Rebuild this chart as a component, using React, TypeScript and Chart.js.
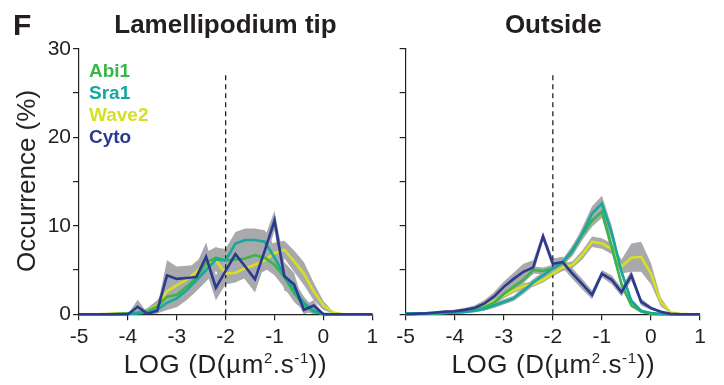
import React, { useEffect, useRef } from "react";
import { Chart, registerables } from "chart.js";

Chart.register(...registerables);

// ---------- data ----------
const LOG_D = [-5, -4.8, -4.6, -4.4, -4.2, -4, -3.8, -3.6, -3.4, -3.2, -3, -2.8, -2.6, -2.4, -2.2, -2, -1.8, -1.6, -1.4, -1.2, -1, -0.8, -0.6, -0.4, -0.2, 0, 0.2, 0.4, 0.6, 0.8, 1];

const SERIES_NAMES = ["Abi1", "Sra1", "Wave2", "Cyto"];
const SERIES_COLORS = ["#3ab54a", "#16a99b", "#d7df23", "#2b3990"];
const SERIES_ORDER = [3, 2, 4, 1];
const BAND_COLOR = "#a7a9ac";

const PANEL_TITLES = ["Lamellipodium tip", "Outside"];
const X_TICKS = [-5, -4, -3, -2, -1, 0, 1];
const Y_LABELS = [0, 10, 20, 30];
const DASH_X = -2;
const DASH_TOP = 27.3;

// Lamellipodium tip
const tipAbi1 = [0, 0, 0, 0, 0.05, 0.1, 0.2, 0.35, 0.9, 2.0, 2.2, 3.1, 4.1, 5.8, 6.4, 6.1, 6.2, 6.3, 6.7, 6.4, 5.6, 4.2, 2.4, 1.0, 0.3, 0, 0, 0, 0, 0, 0];
const tipSra1 = [0, 0, 0, 0, 0, 0.05, 0.1, 0.2, 0.5, 1.3, 1.8, 2.7, 3.8, 5.0, 6.2, 6.1, 8.0, 8.4, 8.4, 8.2, 6.4, 4.4, 2.8, 1.3, 0.4, 0.05, 0, 0, 0, 0, 0];
const tipWave2 = [0, 0, 0, 0.05, 0.1, 0.1, 0.15, 0.4, 1.0, 2.6, 3.3, 3.9, 4.8, 5.7, 6.1, 4.6, 4.7, 5.2, 5.6, 6.1, 6.9, 7.3, 6.0, 4.6, 2.6, 1.0, 0.2, 0, 0, 0, 0];
const tipCyto = [0, 0, 0, 0, 0, 0, 0.85, 0.05, 0.4, 4.4, 4.0, 4.1, 4.2, 6.5, 3.0, 4.9, 6.8, 5.4, 3.95, 7.2, 10.6, 4.3, 3.4, 0.5, 1.0, 0, 0, 0, 0, 0, 0];

const tipAbi1Err = [0, 0, 0, 0, 0.05, 0.1, 0.2, 0.3, 0.6, 0.9, 1.0, 1.1, 1.2, 1.2, 1.2, 1.1, 1.1, 1.1, 1.2, 1.2, 1.2, 1.2, 1.0, 0.6, 0.3, 0.1, 0, 0, 0, 0, 0];
const tipSra1Err = [0, 0, 0, 0, 0, 0.05, 0.1, 0.2, 0.4, 0.8, 1.0, 1.1, 1.2, 1.3, 1.3, 1.3, 1.3, 1.3, 1.3, 1.3, 1.3, 1.2, 1.0, 0.7, 0.3, 0.05, 0, 0, 0, 0, 0];
const tipWave2Err = [0, 0, 0, 0.05, 0.1, 0.1, 0.15, 0.3, 0.6, 1.0, 1.0, 1.1, 1.2, 1.2, 1.2, 1.2, 1.1, 1.1, 1.2, 1.2, 1.2, 1.0, 1.2, 1.3, 1.0, 0.5, 0.1, 0, 0, 0, 0];
const tipCytoErr = [0, 0, 0, 0, 0, 0, 0.8, 0.1, 0.4, 1.7, 1.4, 1.4, 1.4, 1.6, 1.4, 1.5, 1.6, 1.5, 1.5, 1.5, 1.1, 1.6, 1.3, 0.5, 0.6, 0, 0, 0, 0, 0, 0];

// Outside
const outAbi1 = [0.05, 0.05, 0.1, 0.1, 0.15, 0.2, 0.3, 0.5, 0.8, 1.3, 2.3, 3.1, 3.9, 5.0, 4.9, 5.2, 5.8, 7.3, 9.0, 10.6, 11.6, 7.6, 3.4, 1.0, 0.3, 0.05, 0, 0, 0, 0, 0];
const outSra1 = [0.1, 0.1, 0.1, 0.1, 0.15, 0.2, 0.25, 0.4, 0.6, 1.0, 1.4, 1.8, 2.7, 3.6, 4.4, 5.2, 5.9, 7.1, 9.1, 11.4, 12.5, 9.2, 4.8, 1.5, 0.4, 0.15, 0.05, 0, 0, 0, 0];
const outWave2 = [0, 0.05, 0.1, 0.1, 0.2, 0.2, 0.3, 0.5, 0.9, 1.5, 2.1, 2.7, 3.2, 3.4, 3.9, 4.6, 5.3, 5.6, 6.7, 8.2, 8.0, 7.4, 5.4, 6.4, 6.5, 4.6, 1.4, 0.2, 0.05, 0, 0];
const outCyto = [0, 0.05, 0.1, 0.2, 0.3, 0.35, 0.5, 0.7, 1.2, 2.0, 3.1, 4.0, 4.8, 5.3, 8.8, 5.7, 5.9, 4.6, 3.4, 2.2, 4.6, 3.9, 2.5, 4.4, 1.4, 0.7, 0.3, 0.05, 0, 0, 0];

const outAbi1Err = [0.05, 0.05, 0.05, 0.1, 0.1, 0.1, 0.1, 0.2, 0.2, 0.3, 0.3, 0.4, 0.4, 0.4, 0.4, 0.4, 0.4, 0.5, 0.6, 0.7, 0.7, 0.6, 0.4, 0.2, 0.1, 0.05, 0, 0, 0, 0, 0];
const outSra1Err = [0.05, 0.05, 0.05, 0.1, 0.1, 0.1, 0.1, 0.2, 0.2, 0.3, 0.3, 0.3, 0.4, 0.4, 0.4, 0.4, 0.4, 0.5, 0.7, 0.8, 0.9, 0.8, 0.5, 0.3, 0.1, 0.05, 0, 0, 0, 0, 0];
const outWave2Err = [0, 0.05, 0.05, 0.1, 0.1, 0.1, 0.1, 0.2, 0.2, 0.3, 0.3, 0.3, 0.3, 0.3, 0.3, 0.3, 0.4, 0.4, 0.5, 0.6, 0.6, 0.6, 0.8, 1.6, 1.7, 1.2, 0.5, 0.1, 0.05, 0, 0];
const outCytoErr = [0, 0.05, 0.05, 0.1, 0.1, 0.2, 0.2, 0.3, 0.4, 0.5, 0.6, 0.7, 0.9, 0.8, 0.5, 0.6, 0.6, 0.6, 0.6, 0.5, 0.4, 0.5, 0.5, 0.6, 0.4, 0.2, 0.1, 0.05, 0, 0, 0];

const TIP_MEANS = [tipAbi1, tipSra1, tipWave2, tipCyto];
const TIP_ERRS = [tipAbi1Err, tipSra1Err, tipWave2Err, tipCytoErr];
const OUT_MEANS = [outAbi1, outSra1, outWave2, outCyto];
const OUT_ERRS = [outAbi1Err, outSra1Err, outWave2Err, outCytoErr];

// ---------- styling ----------
const INK = "#231f20";
const FONT = "'Liberation Sans', Arial, Helvetica, sans-serif";

function buildConfig(means: number[][], errs: number[][], showYLabels: boolean, yWidth: number, padRight: number): any {
  const datasets: any[] = [];
  means.forEach((m, i) => {
    const e = errs[i];
    datasets.push({
      label: SERIES_NAMES[i] + " low",
      data: LOG_D.map((x, k) => ({ x, y: Math.max(0, m[k] - e[k]) })),
      borderWidth: 0,
      pointRadius: 0,
      fill: false,
      order: 20,
    });
    datasets.push({
      label: SERIES_NAMES[i] + " high",
      data: LOG_D.map((x, k) => ({ x, y: m[k] + e[k] })),
      borderWidth: 0,
      pointRadius: 0,
      backgroundColor: BAND_COLOR,
      fill: "-1",
      order: 20,
    });
  });
  datasets.push({
    label: "threshold",
    data: [
      { x: DASH_X, y: 0 },
      { x: DASH_X, y: DASH_TOP },
    ],
    borderColor: INK,
    borderWidth: 1.3,
    borderDash: [5, 4],
    pointRadius: 0,
    fill: false,
    order: 8,
  });
  means.forEach((m, i) => {
    datasets.push({
      label: SERIES_NAMES[i],
      data: LOG_D.map((x, k) => ({ x, y: m[k] })),
      borderColor: SERIES_COLORS[i],
      borderWidth: 2.6,
      pointRadius: 0,
      fill: false,
      tension: 0,
      clip: false,
      order: SERIES_ORDER[i],
    });
  });

  return {
    type: "line",
    data: { datasets },
    options: {
      animation: false,
      responsive: false,
      devicePixelRatio: 1,
      layout: { padding: { top: 48.8, right: padRight, bottom: 0, left: 0 } },
      plugins: { legend: { display: false }, tooltip: { enabled: false }, title: { display: false } },
      scales: {
        x: {
          type: "linear",
          min: -5,
          max: 1,
          afterFit: (s: any) => {
            s.height = 70.7;
          },
          ticks: {
            stepSize: 1,
            autoSkip: false,
            maxRotation: 0,
            padding: 4,
            color: INK,
            font: { family: FONT, size: 21 },
            callback: (v: any) => (X_TICKS.includes(v) ? String(v) : ""),
          },
          grid: { drawOnChartArea: false, drawTicks: true, tickLength: 6, color: INK, lineWidth: 1.2 },
          border: { display: true, color: INK, width: 1.2 },
        },
        y: {
          type: "linear",
          min: 0,
          max: 30,
          afterFit: (s: any) => {
            s.width = yWidth;
          },
          ticks: {
            stepSize: 5,
            autoSkip: false,
            padding: 2,
            color: INK,
            font: { family: FONT, size: 21 },
            callback: (v: any) => (showYLabels && Y_LABELS.includes(v) ? String(v) : ""),
          },
          grid: { drawOnChartArea: false, drawTicks: true, tickLength: 6, color: INK, lineWidth: 1.2 },
          border: { display: true, color: INK, width: 1.2 },
        },
      },
    },
  };
}

function Panel(props: { left: number; width: number; config: () => any }) {
  const ref = useRef<HTMLCanvasElement | null>(null);
  useEffect(() => {
    if (!ref.current) return;
    const chart = new Chart(ref.current, props.config());
    return () => chart.destroy();
  }, []);
  return (
    <canvas
      ref={ref}
      width={props.width}
      height={385}
      style={{ position: "absolute", left: props.left, top: 0, width: props.width, height: 385 }}
    />
  );
}

function XTitle(props: { center: number }) {
  return (
    <div
      style={{
        position: "absolute",
        left: props.center,
        top: 351,
        transform: "translateX(-50%)",
        fontFamily: FONT,
        fontSize: 26,
        lineHeight: 1,
        color: INK,
        whiteSpace: "nowrap",
        letterSpacing: 0.6,
      }}
    >
      LOG (D(µm
      <span style={{ fontSize: 15, position: "relative", top: -10 }}>2</span>.s
      <span style={{ fontSize: 15, position: "relative", top: -10 }}>-1</span>))
    </div>
  );
}

export default function App() {
  const legendTops = [61, 83, 105, 127];
  return (
    <div style={{ position: "absolute", left: 0, top: 0, width: 724, height: 385, background: "#fff", overflow: "hidden" }}>
      <Panel left={0} width={385} config={() => buildConfig(TIP_MEANS, TIP_ERRS, true, 79, 12.7)} />
      <Panel left={385} width={339} config={() => buildConfig(OUT_MEANS, OUT_ERRS, false, 20.7, 24)} />

      <div style={{ position: "absolute", left: 13, top: 10, fontFamily: FONT, fontWeight: "bold", fontSize: 30, lineHeight: 1, color: INK }}>
        F
      </div>
      {PANEL_TITLES.map((t, i) => (
        <div
          key={t}
          style={{
            position: "absolute",
            left: i === 0 ? 225.5 : 553.3,
            top: 11,
            transform: "translateX(-50%)",
            fontFamily: FONT,
            fontWeight: "bold",
            fontSize: 26,
            lineHeight: 1,
            color: INK,
            whiteSpace: "nowrap",
          }}
        >
          {t}
        </div>
      ))}
      {SERIES_NAMES.map((n, i) => (
        <div
          key={n}
          style={{
            position: "absolute",
            left: 89,
            top: legendTops[i],
            fontFamily: FONT,
            fontWeight: "bold",
            fontSize: 19,
            lineHeight: 1,
            color: SERIES_COLORS[i],
            whiteSpace: "nowrap",
          }}
        >
          {n}
        </div>
      ))}
      <div
        style={{
          position: "absolute",
          left: 26,
          top: 181,
          transform: "translate(-50%, -50%) rotate(-90deg)",
          fontFamily: FONT,
          fontSize: 26,
          lineHeight: 1,
          color: INK,
          whiteSpace: "nowrap",
        }}
      >
        Occurrence (%)
      </div>
      <XTitle center={225.5} />
      <XTitle center={553.3} />
    </div>
  );
}
